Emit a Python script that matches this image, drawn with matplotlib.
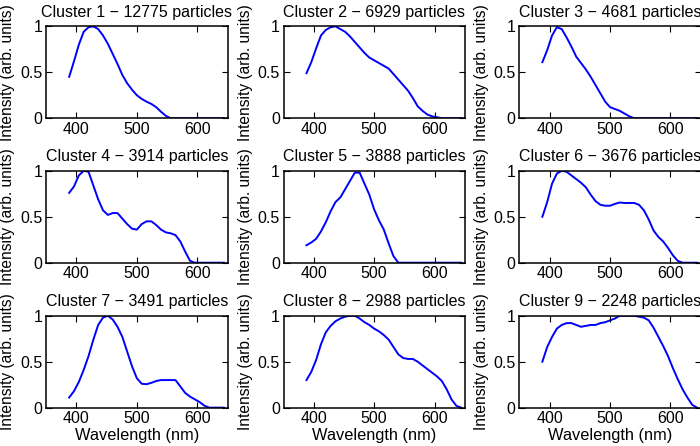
import numpy as np
import matplotlib
matplotlib.use('Agg')
import matplotlib.pyplot as plt

plt.rcParams['font.family'] = ['Liberation Sans', 'DejaVu Sans']
plt.rcParams['font.size'] = 11.5

# wavelength grid (nm)
wavelength = [388, 396, 404, 412, 420, 428, 436, 444, 452, 460, 468, 476,
              484, 492, 500, 508, 516, 524, 532, 540, 548, 556, 564, 572,
              580, 588, 596, 604, 612, 620, 628, 636, 644]

counts = [12775, 6929, 4681, 3914, 3888, 3676, 3491, 2988, 2248]

# normalised spectra
c1 = [0.45, 0.62, 0.80, 0.94, 0.99, 1.00, 0.97, 0.90, 0.81, 0.70, 0.59, 0.47,
      0.38, 0.31, 0.25, 0.21, 0.18, 0.155, 0.12, 0.07, 0.025, 0.0, 0.0, 0.0,
      0.0, 0.0, 0.0, 0.0, 0.0, 0.0, 0.0, 0.0, 0.0]
c2 = [0.49, 0.61, 0.76, 0.90, 0.96, 0.99, 1.00, 0.97, 0.94, 0.89, 0.83, 0.77,
      0.71, 0.66, 0.63, 0.60, 0.57, 0.54, 0.48, 0.42, 0.36, 0.30, 0.22, 0.13,
      0.08, 0.04, 0.02, 0.01, 0.0, 0.0, 0.0, 0.0, 0.0]
c3 = [0.61, 0.74, 0.90, 0.99, 0.97, 0.88, 0.78, 0.67, 0.60, 0.53, 0.45, 0.36,
      0.27, 0.18, 0.12, 0.10, 0.08, 0.05, 0.02, 0.0, 0.0, 0.0, 0.0, 0.0,
      0.0, 0.0, 0.0, 0.0, 0.0, 0.0, 0.0, 0.0, 0.0]
c4 = [0.76, 0.83, 0.95, 1.00, 0.99, 0.84, 0.69, 0.57, 0.52, 0.54, 0.54, 0.48,
      0.42, 0.37, 0.36, 0.42, 0.45, 0.45, 0.41, 0.36, 0.33, 0.32, 0.30, 0.23,
      0.12, 0.02, 0.0, 0.0, 0.0, 0.0, 0.0, 0.0, 0.0]
c5 = [0.19, 0.22, 0.26, 0.34, 0.44, 0.56, 0.66, 0.71, 0.80, 0.89, 0.98, 0.98,
      0.86, 0.74, 0.58, 0.46, 0.36, 0.21, 0.07, 0.0, 0.0, 0.0, 0.0, 0.0,
      0.0, 0.0, 0.0, 0.0, 0.0, 0.0, 0.0, 0.0, 0.0]
c6 = [0.50, 0.66, 0.86, 0.97, 1.00, 0.99, 0.95, 0.91, 0.87, 0.82, 0.74, 0.67,
      0.63, 0.62, 0.62, 0.64, 0.655, 0.65, 0.65, 0.65, 0.63, 0.57, 0.47, 0.35,
      0.28, 0.23, 0.16, 0.08, 0.02, 0.0, 0.0, 0.0, 0.0]
c7 = [0.11, 0.18, 0.28, 0.41, 0.56, 0.74, 0.90, 0.98, 1.00, 0.96, 0.88, 0.77,
      0.61, 0.45, 0.32, 0.26, 0.255, 0.27, 0.29, 0.30, 0.30, 0.30, 0.30, 0.23,
      0.16, 0.12, 0.09, 0.06, 0.02, 0.0, 0.0, 0.0, 0.0]
c8 = [0.30, 0.39, 0.52, 0.69, 0.82, 0.89, 0.94, 0.97, 0.99, 1.00, 1.00, 0.97,
      0.93, 0.90, 0.86, 0.83, 0.79, 0.74, 0.66, 0.58, 0.54, 0.53, 0.53, 0.50,
      0.46, 0.42, 0.38, 0.34, 0.29, 0.20, 0.09, 0.02, 0.0]
c9 = [0.50, 0.66, 0.77, 0.86, 0.90, 0.92, 0.92, 0.90, 0.88, 0.89, 0.90, 0.90,
      0.92, 0.93, 0.95, 0.97, 1.00, 1.00, 1.00, 1.00, 0.99, 0.98, 0.95, 0.87,
      0.77, 0.67, 0.56, 0.43, 0.31, 0.20, 0.11, 0.03, 0.0]

spectra = [c1, c2, c3, c4, c5, c6, c7, c8, c9]

fig = plt.figure(figsize=(7, 4.46), dpi=100)

lefts = [0.066, 0.405, 0.742]
bottoms = [0.735, 0.411, 0.086]
w, h = 0.259, 0.206

for i, spec in enumerate(spectra):
    row, col = divmod(i, 3)
    ax = fig.add_axes([lefts[col], bottoms[row], w, h])
    ax.plot(wavelength, spec, color=(0, 0, 1), lw=1.4, zorder=1)
    ax.set_xlim(350, 650)
    ax.set_ylim(0, 1)
    ax.set_xticks([400, 500, 600])
    ax.set_yticks([0, 0.5, 1])
    ax.set_yticklabels(['0', '0.5', '1'])
    ax.tick_params(direction='in', top=True, right=True, length=4, width=0.8,
                   labelsize=11.5, pad=2.7)
    for s in ax.spines.values():
        s.set_linewidth(1.1)
        s.set_zorder(3)
    ax.set_title('Cluster %d \u2212 %d particles' % (i + 1, counts[i]),
                 fontsize=11.5, pad=7)
    ax.set_ylabel('Intensity (arb. units)', fontsize=11.2, labelpad=3.5)
    if row == 2:
        ax.set_xlabel('Wavelength (nm)', fontsize=11.8, labelpad=1.5)

plt.savefig('out.png', dpi=100)
